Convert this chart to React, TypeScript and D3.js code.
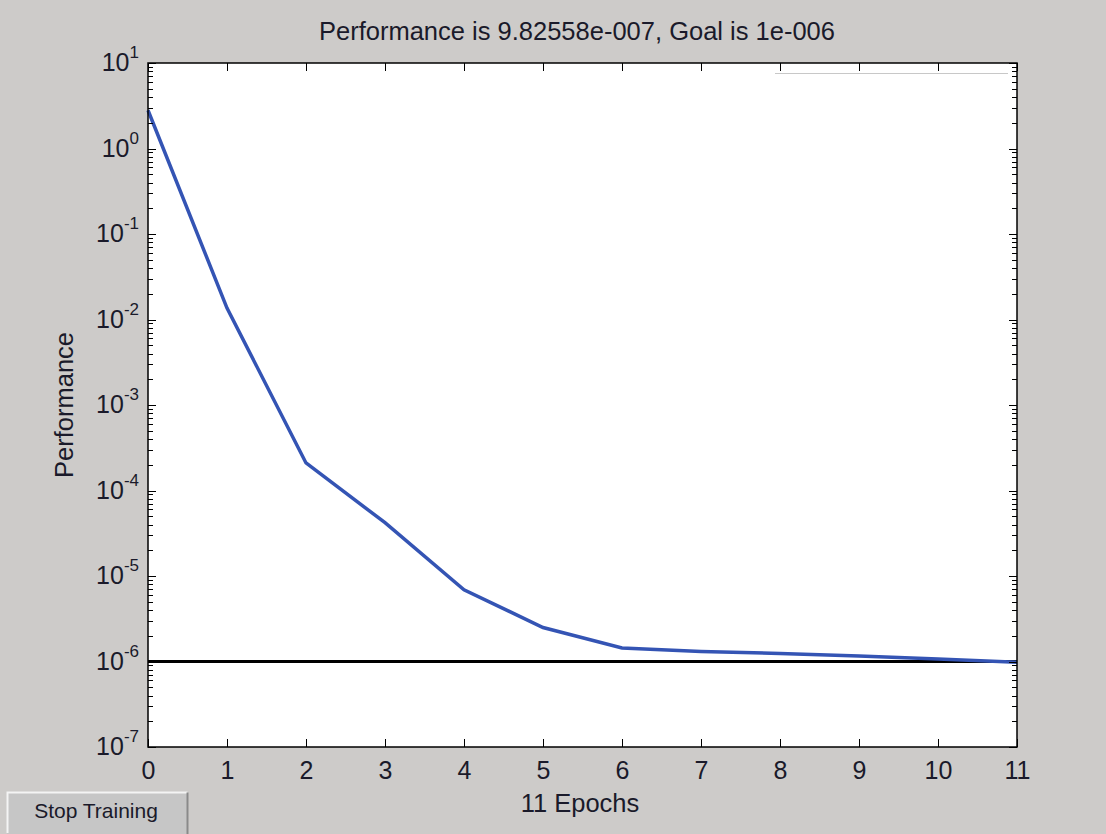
import React, { useRef, useEffect } from "react";
import { select, scaleLinear, scaleLog, line, axisBottom, axisTop, range } from "d3";

// training record
const epochs = [0, 1, 2, 3, 4, 5, 6, 7, 8, 9, 10, 11];
const performance = [2.8, 0.0136, 2.1e-4, 4.2e-5, 6.9e-6, 2.5e-6, 1.44e-6, 1.31e-6, 1.24e-6, 1.16e-6, 1.07e-6, 9.82558e-7];
const goal = 1e-6;
const decadeExponents = [-7, -6, -5, -4, -3, -2, -1, 0, 1];
const titleText = "Performance is 9.82558e-007, Goal is 1e-006";
const xLabel = "11 Epochs";
const yLabel = "Performance";

const W = 1106;
const H = 834;
const FONT = "'Liberation Sans', Arial, sans-serif";
const INK = "#1a1a2a";

function PerformancePlot() {
    const svgRef = useRef<SVGSVGElement>(null);

    useEffect(() => {
        const svg = select(svgRef.current);
        svg.selectAll("*").remove();

        const left = 148, right = 1017, top = 63, bottom = 747;
        const x = scaleLinear().domain([0, 11]).range([left, right]);
        const y = scaleLog().domain([1e-7, 10]).range([bottom, top]);

        svg.append("rect").attr("width", W).attr("height", H).attr("fill", "#cdcbc9");
        svg.append("rect")
            .attr("x", left).attr("y", top)
            .attr("width", right - left).attr("height", bottom - top)
            .attr("fill", "#fff");

        // faint leftover legend edge at the top right
        svg.append("line")
            .attr("x1", 775).attr("x2", 1008).attr("y1", 73.5).attr("y2", 73.5)
            .attr("stroke", "#c8c8c8").attr("stroke-width", 1);

        // goal line
        svg.append("line")
            .attr("x1", left).attr("x2", right)
            .attr("y1", y(goal)).attr("y2", y(goal))
            .attr("stroke", "#000").attr("stroke-width", 3);

        // performance curve
        const perfLine = line<number>()
            .x((d, i) => x(epochs[i]))
            .y(d => y(d));
        svg.append("path")
            .datum(performance)
            .attr("d", perfLine)
            .attr("fill", "none")
            .attr("stroke", "#3454b4")
            .attr("stroke-width", 3.5);

        // y ticks (major + minor) on both sides, pointing inward
        const yTicks: { v: number; major: boolean }[] = [];
        decadeExponents.forEach(e => {
            yTicks.push({ v: Math.pow(10, e), major: true });
            if (e < 1) range(2, 10).forEach(m => yTicks.push({ v: m * Math.pow(10, e), major: false }));
        });
        const tg = svg.append("g").attr("stroke", "#000").attr("stroke-width", 1);
        tg.selectAll(".yl").data(yTicks).join("line")
            .attr("x1", left).attr("x2", d => left + (d.major ? 8 : 5))
            .attr("y1", d => Math.round(y(d.v)) + 0.5).attr("y2", d => Math.round(y(d.v)) + 0.5);
        tg.selectAll(".yr").data(yTicks).join("line")
            .attr("x1", right).attr("x2", d => right - (d.major ? 8 : 5))
            .attr("y1", d => Math.round(y(d.v)) + 0.5).attr("y2", d => Math.round(y(d.v)) + 0.5);

        // x axes: ticks inward on bottom and top
        const xb = svg.append("g").attr("transform", `translate(0,${bottom})`)
            .call(axisBottom(x).tickValues(epochs).tickSizeInner(-8).tickSizeOuter(0).tickPadding(14).tickFormat(d => String(d)));
        xb.select(".domain").remove();
        xb.selectAll("text").attr("font-family", FONT).attr("font-size", 25).attr("fill", INK);
        xb.selectAll("line").attr("stroke", "#000");
        const xt = svg.append("g").attr("transform", `translate(0,${top})`)
            .call(axisTop(x).tickValues(epochs).tickSizeInner(-8).tickSizeOuter(0).tickFormat(() => ""));
        xt.select(".domain").remove();
        xt.selectAll("line").attr("stroke", "#000");

        // y tick labels as 10^n
        const yl = svg.append("g").attr("font-family", FONT).attr("fill", INK);
        decadeExponents.forEach(e => {
            const t = yl.append("text")
                .attr("x", 139).attr("y", y(Math.pow(10, e)) + 8)
                .attr("text-anchor", "end").attr("font-size", 25);
            t.append("tspan").text("10");
            t.append("tspan").attr("font-size", 17).attr("dy", -13).text(String(e));
        });

        // box
        svg.append("rect")
            .attr("x", left).attr("y", top)
            .attr("width", right - left).attr("height", bottom - top)
            .attr("fill", "none").attr("stroke", "#000").attr("stroke-width", 1.5);

        // titles
        svg.append("text")
            .attr("x", 577).attr("y", 40).attr("text-anchor", "middle")
            .attr("font-family", FONT).attr("font-size", 25.5).attr("fill", INK)
            .text(titleText);
        svg.append("text")
            .attr("x", 580).attr("y", 812).attr("text-anchor", "middle")
            .attr("font-family", FONT).attr("font-size", 25.5).attr("fill", INK)
            .text(xLabel);
        svg.append("text")
            .attr("transform", "translate(73,405) rotate(-90)")
            .attr("text-anchor", "middle")
            .attr("font-family", FONT).attr("font-size", 25.5).attr("fill", INK)
            .text(yLabel);

        // Stop Training button
        const btn = svg.append("g");
        btn.append("rect").attr("x", 7).attr("y", 792).attr("width", 181).attr("height", 42).attr("fill", "#c6c6c6");
        btn.append("path").attr("d", "M7.5,833 V792.5 H187.5").attr("fill", "none").attr("stroke", "#f4f4f4").attr("stroke-width", 2);
        btn.append("path").attr("d", "M187.5,792.5 V834").attr("fill", "none").attr("stroke", "#8a8a8a").attr("stroke-width", 2);
        btn.append("text")
            .attr("x", 96).attr("y", 818).attr("text-anchor", "middle")
            .attr("font-family", FONT).attr("font-size", 21).attr("fill", INK)
            .text("Stop Training");
    }, []);

    return <svg ref={svgRef} width={W} height={H} style={{ position: "absolute", left: 0, top: 0 }} />;
}

export default function App() {
    return <PerformancePlot />;
}
